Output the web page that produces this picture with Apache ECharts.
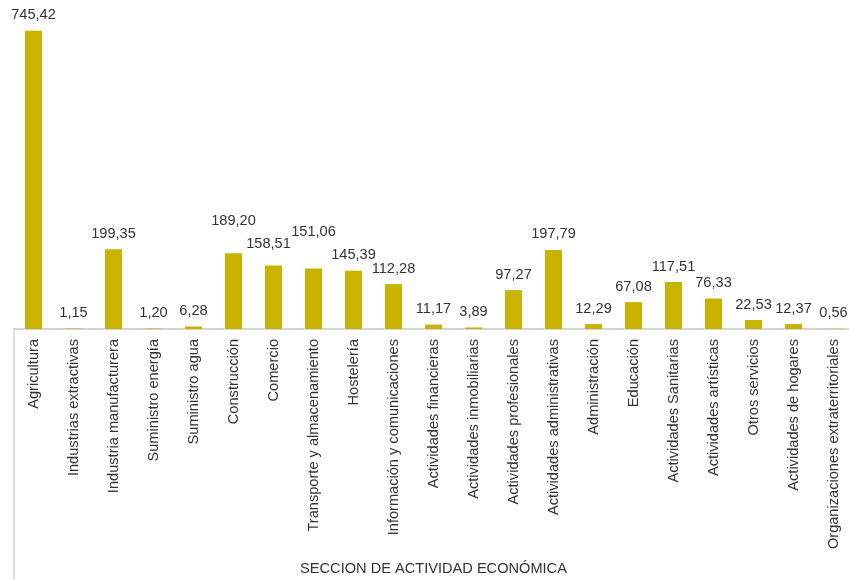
<!DOCTYPE html>
<html>
<head>
<meta charset="utf-8">
<script src="https://cdn.jsdelivr.net/npm/echarts@6/dist/echarts.min.js"></script>
<style>
  html, body { margin: 0; padding: 0; background: #fff; }
  #chart { width: 849px; height: 580px; }
</style>
</head>
<body>
<div id="chart"></div>
<script>
const categories = [
  "Agricultura", "Industrias extractivas", "Industria manufacturera", "Suministro energía",
  "Suministro agua", "Construcción", "Comercio", "Transporte y almacenamiento", "Hostelería",
  "Información y comunicaciones", "Actividades financieras", "Actividades inmobiliarias",
  "Actividades profesionales", "Actividades administrativas", "Administración", "Educación",
  "Actividades Sanitarias", "Actividades artísticas", "Otros servicios", "Actividades de hogares",
  "Organizaciones extraterritoriales"
];
const values = [
  745.42, 1.15, 199.35, 1.20, 6.28, 189.20, 158.51, 151.06, 145.39, 112.28, 11.17,
  3.89, 97.27, 197.79, 12.29, 67.08, 117.51, 76.33, 22.53, 12.37, 0.56
];
const axisName = "SECCION DE ACTIVIDAD ECONÓMICA";

// a few labels sit away from their bar in the original
const labelShift = { 5: [0, -17], 6: [-5, -6], 7: [0, -21] };

const fmt = v => v.toFixed(2).replace(".", ",");
const textColor = "#333";
const fontSize = 14.6;

const chart = echarts.init(document.getElementById("chart"));
chart.setOption({
  animation: false,
  grid: { left: 13.5, width: 840, top: 9, bottom: 251, outerBoundsMode: "none" },
  xAxis: {
    type: "category",
    data: categories,
    name: axisName,
    nameLocation: "middle",
    nameGap: 232,
    nameTextStyle: { color: textColor, fontSize: fontSize, fontFamily: "Liberation Sans" },
    axisLine: { lineStyle: { color: "#d4d4d4", width: 2 } },
    axisTick: {
      show: true,
      interval: (i) => i === 0,
      length: 251,
      lineStyle: { color: "#d4d4d4", width: 1.5 }
    },
    axisLabel: {
      rotate: 90,
      interval: 0,
      margin: 10,
      color: textColor,
      fontSize: fontSize,
      fontFamily: "Liberation Sans"
    }
  },
  yAxis: {
    type: "value",
    min: 0,
    max: 800,
    show: false,
    splitLine: { show: false }
  },
  series: [{
    type: "bar",
    barWidth: 17,
    itemStyle: { color: "#c8b400" },
    data: values.map((v, i) => ({
      value: v,
      label: labelShift[i] ? { offset: labelShift[i] } : undefined
    })),
    label: {
      show: true,
      position: "top",
      distance: 8,
      color: textColor,
      fontSize: fontSize,
      fontFamily: "Liberation Sans",
      formatter: p => fmt(p.value)
    }
  }]
});
</script>
</body>
</html>
